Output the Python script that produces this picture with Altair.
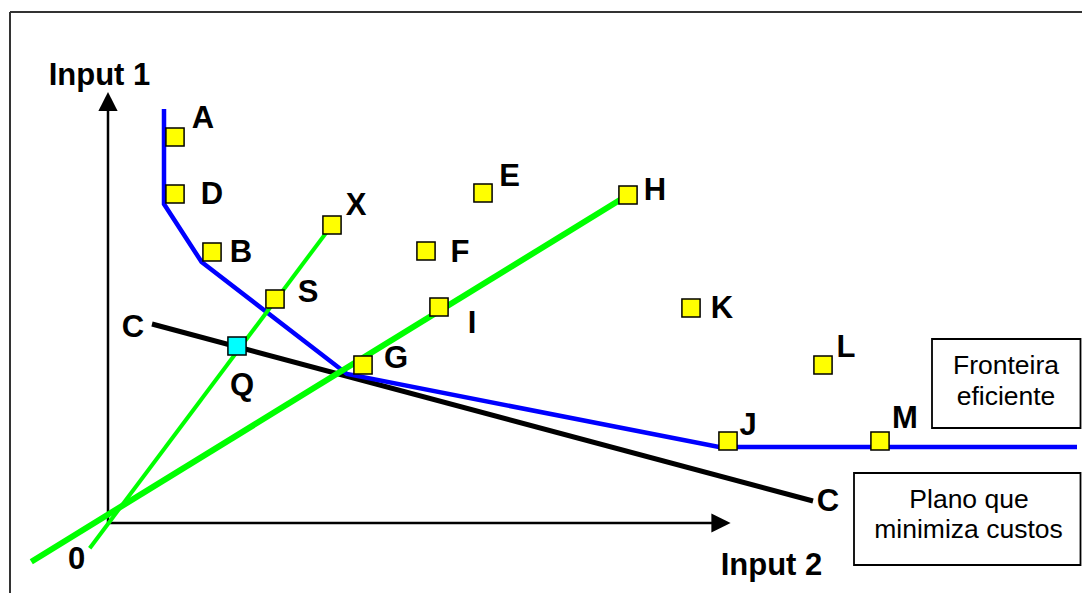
import altair as alt
import pandas as pd

# Diagram coordinates: origin at the corner of the two input axes
# x = Input 2, y = Input 1 (arbitrary units)

frontier_x = [56, 56, 93.6, 239, 611, 969]
frontier_y = [414, 319, 261, 149, 76, 76]

cost_x = [44, 705]
cost_y = [199, 22]

ray_x_x = [-18.3, 224]
ray_x_y = [-25.3, 298]
ray_h_x = [-76.7, 520]
ray_h_y = [-38.7, 328]

dmu_names = ["A", "D", "B", "X", "S", "E", "F", "H", "I", "K", "G", "Q", "L", "J", "M"]
dmu_x = [67, 67, 104, 224, 167, 375, 318, 520, 331, 583, 255, 129, 715, 620, 772]
dmu_y = [386, 329, 271, 298, 224, 330, 272, 328, 216, 215, 158, 177, 158, 82, 82]
dmu_kind = ["obs"] * 11 + ["proj"] + ["obs"] * 3

label_x = [95, 104, 133, 248, 200, 401.5, 352, 547, 364, 614, 288, 134, 738, 640, 797]
label_y = [395, 319, 261, 308, 221, 337, 261, 323, 190, 205, 155, 128, 166, 88, 95]

extra_labels = ["C", "C", "0"]
extra_x = [25, 720, -31.5]
extra_y = [186, 12, -46]

axis_titles = ["Input 1", "Input 2"]
axis_title_x = [-8.5, 663.5]
axis_title_y = [438, -52]

axis_len_x = 604
axis_len_y = 412
arrow_x_pos = 613
arrow_y_pos = 421.5

frame_left = -98
frame_top = 511

box_texts = ["Fronteira", "eficiente", "Plano que", "minimiza custos"]
box_text_x = [898, 898, 861, 860.5]
box_text_y = [149, 118, 15, -15]
box_x = [824, 746]
box_x2 = [972.5, 972.5]
box_y = [184, 50]
box_y2 = [95, -42]

X_MIN, X_MAX = -100, 974
Y_MIN, Y_MAX = -70, 515

xs = alt.Scale(domain=[X_MIN, X_MAX], nice=False, zero=False)
ys = alt.Scale(domain=[Y_MIN, Y_MAX], nice=False, zero=False)


def X(f="x"):
    return alt.X(f"{f}:Q", scale=xs, axis=None)


def Y(f="y"):
    return alt.Y(f"{f}:Q", scale=ys, axis=None)


FONT = "Liberation Sans"

frame_df = pd.DataFrame({
    "x": [frame_left, frame_left],
    "x2": [X_MAX, frame_left],
    "y": [frame_top, frame_top],
    "y2": [frame_top, Y_MIN],
})
frame = alt.Chart(frame_df).mark_rule(color="#333333", strokeWidth=2).encode(
    x=X(), x2="x2:Q", y=Y(), y2="y2:Q")

axes_df = pd.DataFrame({
    "x": [0, 0], "x2": [0, axis_len_x],
    "y": [0, 0], "y2": [axis_len_y, 0],
})
axes = alt.Chart(axes_df).mark_rule(color="black", strokeWidth=2.5).encode(
    x=X(), x2="x2:Q", y=Y(), y2="y2:Q")

arrow_up = alt.Chart(pd.DataFrame({"x": [0], "y": [arrow_y_pos]})).mark_point(
    shape="M0,-1L1,1L-1,1Z", filled=True, size=370, color="black", opacity=1
).encode(x=X(), y=Y())
arrow_right = alt.Chart(pd.DataFrame({"x": [arrow_x_pos], "y": [0]})).mark_point(
    shape="M1,0L-1,1L-1,-1Z", filled=True, size=370, color="black", opacity=1
).encode(x=X(), y=Y())

cost_df = pd.DataFrame({"x": cost_x, "y": cost_y, "i": range(len(cost_x))})
cost = alt.Chart(cost_df).mark_line(color="black", strokeWidth=5, strokeCap="butt").encode(
    x=X(), y=Y(), order="i:Q")

fr_df = pd.DataFrame({"x": frontier_x, "y": frontier_y, "i": range(len(frontier_x))})
frontier = alt.Chart(fr_df).mark_line(color="#0000FF", strokeWidth=4.5, strokeCap="butt",
                                      strokeJoin="miter").encode(
    x=X(), y=Y(), order="i:Q")

rx_df = pd.DataFrame({"x": ray_x_x, "y": ray_x_y, "i": [0, 1]})
ray_x = alt.Chart(rx_df).mark_line(color="#00FF00", strokeWidth=4, strokeCap="butt").encode(
    x=X(), y=Y(), order="i:Q")
rh_df = pd.DataFrame({"x": ray_h_x, "y": ray_h_y, "i": [0, 1]})
ray_h = alt.Chart(rh_df).mark_line(color="#00FF00", strokeWidth=6, strokeCap="butt").encode(
    x=X(), y=Y(), order="i:Q")

dmu_df = pd.DataFrame({"name": dmu_names, "x": dmu_x, "y": dmu_y, "kind": dmu_kind})
squares = alt.Chart(dmu_df).mark_square(size=330, stroke="black", strokeWidth=1.5, opacity=1).encode(
    x=X(), y=Y(),
    fill=alt.Fill("kind:N", scale=alt.Scale(domain=["obs", "proj"], range=["#FFFF00", "#00FFFF"]),
                  legend=None))

lab_df = pd.DataFrame({
    "t": dmu_names + extra_labels + axis_titles,
    "x": label_x + extra_x + axis_title_x,
    "y": label_y + extra_y + axis_title_y,
})
labels = alt.Chart(lab_df).mark_text(
    font=FONT, fontWeight="bold", fontSize=31, align="center", baseline="alphabetic", color="black"
).encode(x=X(), y=Y(), text="t:N")

box_df = pd.DataFrame({"x": box_x, "x2": box_x2, "y": box_y, "y2": box_y2})
boxes = alt.Chart(box_df).mark_rect(fill="white", stroke="black", strokeWidth=1.8).encode(
    x=X(), x2="x2:Q", y=Y(), y2="y2:Q")

bt_df = pd.DataFrame({"t": box_texts, "x": box_text_x, "y": box_text_y})
btexts = alt.Chart(bt_df).mark_text(
    font=FONT, fontSize=26.5, align="center", baseline="alphabetic", color="black"
).encode(x=X(), y=Y(), text="t:N")

chart = alt.layer(
    frame, axes, arrow_up, arrow_right, cost, frontier, ray_x, ray_h,
    squares, labels, boxes, btexts
).properties(
    width=1074, height=585, padding=0, autosize="none", background="white"
).configure_view(stroke=None)

chart.save("out.html", embed_options={"renderer": "svg", "actions": False})
